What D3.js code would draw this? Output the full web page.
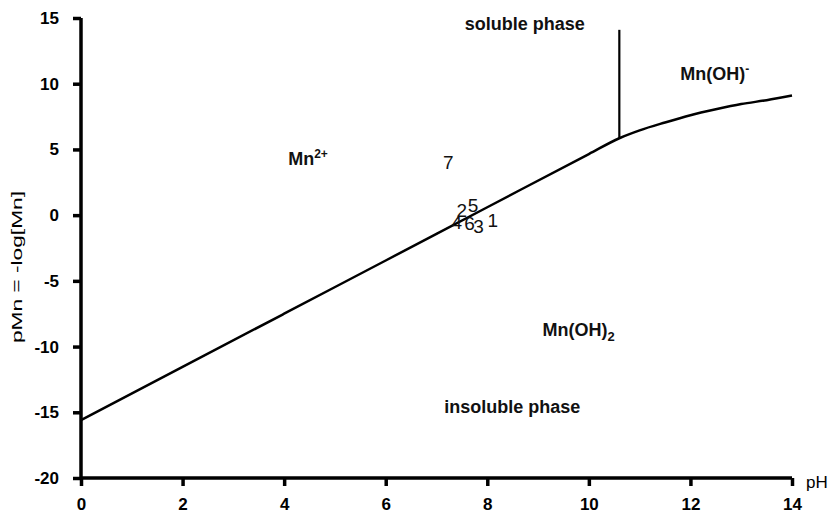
<!DOCTYPE html>
<html>
<head>
<meta charset="utf-8">
<script src="https://cdn.jsdelivr.net/npm/d3@7"></script>
<style>
  html, body { margin: 0; padding: 0; background: #fff; }
  svg { display: block; font-family: "Liberation Sans", Arial, sans-serif; }
</style>
</head>
<body>
<svg id="chart" width="830" height="514"></svg>
<script>
// Solubility boundary of Mn(OH)2: pMn versus pH
const boundaryPH  = [0, 2, 4, 6, 8, 10, 10.6, 11, 11.5, 12, 12.5, 13, 13.5, 14];
const boundaryPMn = [-15.6, -11.55, -7.5, -3.45, 0.6, 4.65, 5.85, 6.45, 7.05, 7.6, 8.05, 8.45, 8.75, 9.1];

// Mn2+ / Mn(OH)- divide in the soluble phase
const dividePH  = [10.6, 10.6];
const dividePMn = [5.85, 14.1];

// Samples, drawn as their numbers
const sampleNames = ["1", "2", "3", "4", "5", "6", "7"];
const samplePH    = [8.11, 7.50, 7.83, 7.40, 7.72, 7.65, 7.23];
const samplePMn   = [-0.38, 0.38, -0.84, -0.53, 0.76, -0.61, 4.03];

// Tick values
const xTicks = [0, 2, 4, 6, 8, 10, 12, 14];
const yTicks = [-20, -15, -10, -5, 0, 5, 10, 15];

const svg = d3.select("#chart");
const x = d3.scaleLinear().domain([0, 14]).range([81, 792]);
const y = d3.scaleLinear().domain([-20, 15]).range([478, 18]);

// Axes
const xAxis = svg.append("g")
  .attr("transform", `translate(0,${y(-20)})`)
  .call(d3.axisBottom(x).tickValues(xTicks).tickSize(8).tickPadding(12).tickFormat(d => String(d)));
const yAxis = svg.append("g")
  .attr("transform", `translate(${x(0)},0)`)
  .call(d3.axisLeft(y).tickValues(yTicks).tickSize(8).tickPadding(14).tickFormat(d => String(d)));

[xAxis, yAxis].forEach(g => {
  g.select(".domain").attr("stroke", "#000").attr("stroke-width", 3.5)
    .attr("d", g === xAxis ? `M${x(0)},0H${x(14)}` : `M0,${y(-20)}V${y(15)}`);
  g.selectAll(".tick line").attr("stroke", "#000").attr("stroke-width", 3.5);
  g.selectAll(".tick text").attr("fill", "#000").attr("font-size", 17).attr("font-weight", "bold")
    .attr("font-family", "Liberation Sans, Arial, sans-serif");
});

// Axis titles
svg.append("text").attr("x", 806).attr("y", 488).attr("font-size", 17).text("pH");
svg.append("text")
  .attr("transform", "translate(22,267) rotate(-90)")
  .attr("text-anchor", "middle").attr("font-size", 15.5)
  .attr("textLength", 152).attr("lengthAdjust", "spacingAndGlyphs")
  .text("pMn = -log[Mn]");

// Boundary lines
const line = d3.line().x(d => x(d[0])).y(d => y(d[1])).curve(d3.curveMonotoneX);
svg.append("path")
  .datum(d3.zip(boundaryPH, boundaryPMn))
  .attr("fill", "none").attr("stroke", "#000").attr("stroke-width", 2.5)
  .attr("d", line);
svg.append("path")
  .datum(d3.zip(dividePH, dividePMn))
  .attr("fill", "none").attr("stroke", "#000").attr("stroke-width", 2.2)
  .attr("d", d3.line().x(d => x(d[0])).y(d => y(d[1])));

// Sample numbers
svg.append("g").selectAll("text")
  .data(d3.zip(sampleNames, samplePH, samplePMn))
  .join("text")
  .attr("x", d => x(d[1])).attr("y", d => y(d[2]))
  .attr("dy", "0.36em").attr("text-anchor", "middle")
  .attr("font-size", 19).attr("fill", "#111")
  .text(d => d[0]);

// Region annotations
function label(ph, pmn, parts) {
  const t = svg.append("text")
    .attr("x", x(ph)).attr("y", y(pmn)).attr("dy", "0.35em")
    .attr("text-anchor", "middle").attr("font-size", 18).attr("font-weight", "bold").attr("fill", "#111");
  parts.forEach(p => {
    const s = t.append("tspan").text(p.t);
    if (p.sup) s.attr("font-size", 12).attr("baseline-shift", "7");
    if (p.sub) s.attr("font-size", 13).attr("baseline-shift", "-5");
  });
}
label(8.74, 14.55, [{t: "soluble phase"}]);
label(8.49, -14.6, [{t: "insoluble phase"}]);
label(4.47, 4.3, [{t: "Mn"}, {t: "2+", sup: true}]);
label(9.80, -8.7, [{t: "Mn(OH)"}, {t: "2", sub: true}]);
label(12.48, 10.8, [{t: "Mn(OH)"}, {t: "-", sup: true}]);
</script>
</body>
</html>
